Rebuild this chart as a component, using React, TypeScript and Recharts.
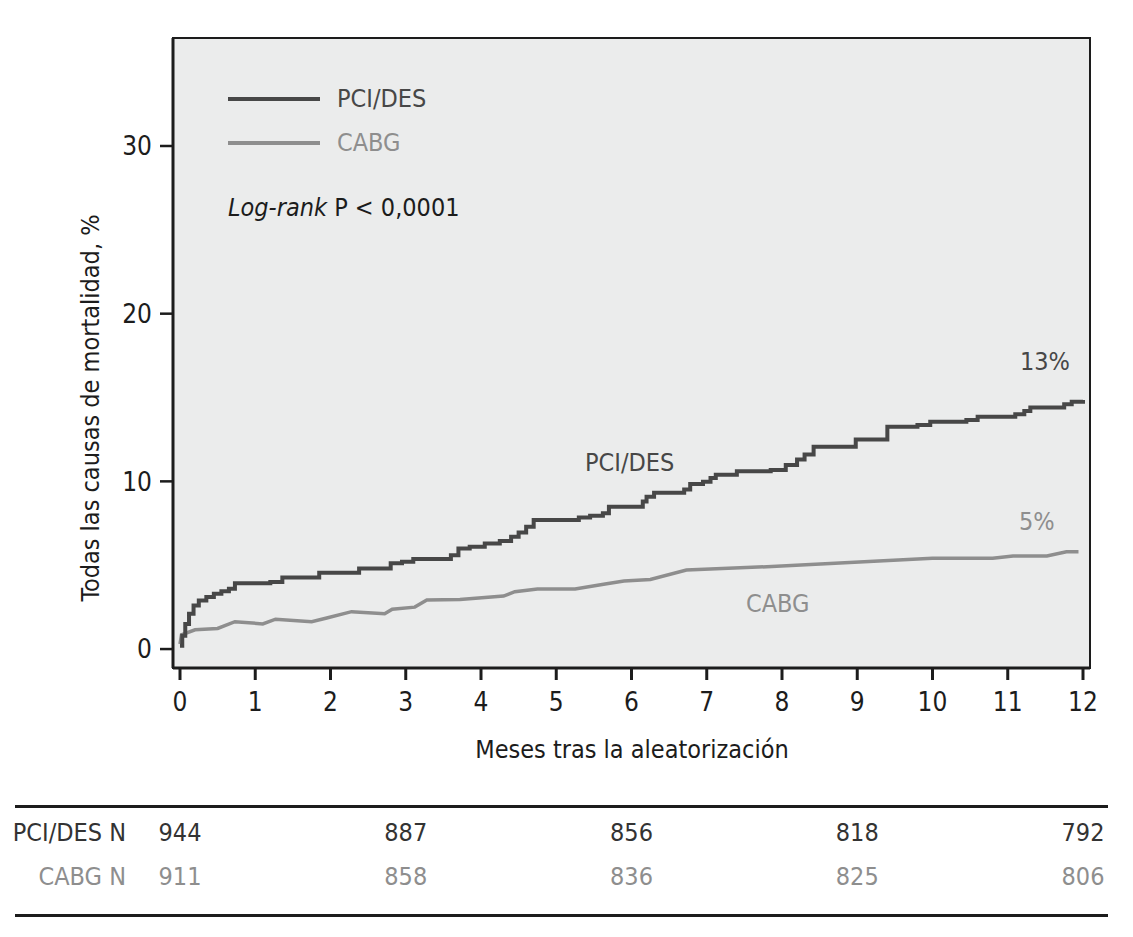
import React from "react";
import { LineChart, Line, XAxis, YAxis, ReferenceArea } from "recharts";

// Kaplan-Meier curves: [month, % mortality]
const pciMonths = [0, 0.03, 0.07, 0.12, 0.18, 0.25, 0.35, 0.45, 0.55, 0.65, 0.73, 1.2, 1.36, 1.85, 2.38, 2.8, 2.95, 3.1, 3.6, 3.7, 3.85, 4.05, 4.25, 4.4, 4.5, 4.6, 4.7, 5.3, 5.45, 5.62, 5.7, 6.15, 6.2, 6.3, 6.7, 6.78, 6.95, 7.05, 7.12, 7.4, 7.85, 8.05, 8.2, 8.3, 8.42, 8.98, 9.4, 9.8, 9.97, 10.45, 10.6, 11.1, 11.22, 11.3, 11.75, 11.85, 12.0];
const pciValues = [0.2, 0.8, 1.5, 2.1, 2.6, 2.9, 3.1, 3.3, 3.45, 3.6, 3.92, 4.0, 4.27, 4.55, 4.81, 5.11, 5.2, 5.37, 5.6, 6.0, 6.1, 6.3, 6.45, 6.7, 6.95, 7.3, 7.69, 7.85, 7.95, 8.1, 8.49, 8.8, 9.08, 9.32, 9.52, 9.84, 9.98, 10.2, 10.4, 10.6, 10.68, 10.97, 11.3, 11.6, 12.07, 12.5, 13.26, 13.36, 13.56, 13.66, 13.86, 14.0, 14.2, 14.4, 14.6, 14.75, 14.85];

const cabgMonths = [0, 0.02, 0.2, 0.5, 0.73, 1.1, 1.27, 1.75, 1.95, 2.28, 2.72, 2.82, 3.12, 3.28, 3.72, 4.3, 4.45, 4.75, 5.25, 5.65, 5.9, 6.25, 6.73, 7.8, 9.35, 10.0, 10.8, 11.07, 11.52, 11.78, 11.94];
const cabgValues = [0.3, 0.85, 1.15, 1.23, 1.63, 1.5, 1.78, 1.63, 1.85, 2.23, 2.1, 2.38, 2.5, 2.92, 2.96, 3.16, 3.42, 3.58, 3.58, 3.88, 4.06, 4.15, 4.71, 4.91, 5.27, 5.41, 5.41, 5.55, 5.55, 5.8, 5.8];

const xTicks = [0, 1, 2, 3, 4, 5, 6, 7, 8, 9, 10, 11, 12];
const yTicks = [0, 10, 20, 30];
const xDomain = [-0.093, 12.093];
const yDomain = [-1.13, 36.44];

// numbers at risk
const riskMonths = [0, 3, 6, 9, 12];
const pciAtRisk = [944, 887, 856, 818, 792];
const cabgAtRisk = [911, 858, 836, 825, 806];

const pciData = pciMonths.map((m, i) => ({ m, v: pciValues[i] }));
const cabgData = cabgMonths.map((m, i) => ({ m, v: cabgValues[i] }));

const DARK = "#474747";
const GRAY = "#8e8e8e";
const INK = "#1c1c1c";
const FONT = "'Liberation Sans Narrow', 'DejaVu Sans Condensed', sans-serif";

const W = 1133;
const H = 937;
const PLOT = { left: 173, top: 38, right: 1090, bottom: 668 };
const X_AXIS_H = 60;
const Y_AXIS_W = PLOT.left;
const M = { top: PLOT.top, left: 0, right: W - PLOT.right, bottom: H - PLOT.bottom - X_AXIS_H };

// month -> pixel, for placing the at-risk numbers under the axis
const monthX = (m: number) =>
  PLOT.left + ((m - xDomain[0]) / (xDomain[1] - xDomain[0])) * (PLOT.right - PLOT.left);

const txt = (extra: React.CSSProperties): React.CSSProperties => ({
  position: "absolute",
  fontFamily: FONT,
  fontSize: 25,
  lineHeight: "28px",
  whiteSpace: "nowrap",
  ...extra,
});

export default function App() {
  return (
    <div style={{ position: "relative", width: W, height: H, margin: -8, background: "#fff" }}>
      <LineChart width={W} height={H} margin={M}>
        <ReferenceArea
          x1={xDomain[0]}
          x2={xDomain[1]}
          y1={yDomain[0]}
          y2={yDomain[1]}
          fill="#ebecec"
          fillOpacity={1}
          stroke={INK}
          strokeWidth={2}
        />
        <XAxis
          type="number"
          dataKey="m"
          domain={xDomain}
          ticks={xTicks}
          allowDataOverflow
          height={X_AXIS_H}
          axisLine={{ stroke: INK, strokeWidth: 3 }}
          tickLine={{ stroke: INK, strokeWidth: 3 }}
          tickSize={12}
          tickMargin={13}
          tick={{ fill: INK, fontSize: 26, fontFamily: FONT }}
        />
        <YAxis
          type="number"
          dataKey="v"
          domain={yDomain}
          ticks={yTicks}
          allowDataOverflow
          width={Y_AXIS_W}
          axisLine={{ stroke: INK, strokeWidth: 3 }}
          tickLine={{ stroke: INK, strokeWidth: 2.5 }}
          tickSize={13}
          tickMargin={8}
          tick={{ fill: INK, fontSize: 26, fontFamily: FONT }}
        />
        <Line
          data={cabgData}
          dataKey="v"
          type="linear"
          stroke={GRAY}
          strokeWidth={3.5}
          dot={false}
          isAnimationActive={false}
        />
        <Line
          data={pciData}
          dataKey="v"
          type="stepAfter"
          stroke={DARK}
          strokeWidth={4}
          dot={false}
          isAnimationActive={false}
        />
      </LineChart>

      {/* legend */}
      <div style={{ position: "absolute", left: 228, top: 97, width: 92, height: 4, background: DARK }} />
      <div style={{ position: "absolute", left: 228, top: 141, width: 92, height: 4, background: GRAY }} />
      <div style={txt({ left: 337, top: 85, color: DARK })}>PCI/DES</div>
      <div style={txt({ left: 337, top: 129, color: GRAY })}>CABG</div>
      <div style={txt({ left: 228, top: 194, color: INK })}>
        <i>Log-rank</i> P &lt; 0,0001
      </div>

      {/* curve annotations */}
      <div style={txt({ left: 1020, top: 348, color: DARK })}>13%</div>
      <div style={txt({ left: 585, top: 449, color: DARK })}>PCI/DES</div>
      <div style={txt({ left: 1019, top: 508, color: GRAY })}>5%</div>
      <div style={txt({ left: 746, top: 590, color: GRAY })}>CABG</div>

      {/* axis titles */}
      <div style={txt({ left: 0, width: 1264, top: 736, textAlign: "center", color: INK })}>
        Meses tras la aleatorización
      </div>
      <div
        style={txt({
          left: 91,
          top: 408,
          color: INK,
          transform: "translate(-50%, -50%) rotate(-90deg)",
        })}
      >
        Todas las causas de mortalidad, %
      </div>

      {/* numbers at risk */}
      <div style={{ position: "absolute", left: 15, top: 805, width: 1093, height: 2.5, background: INK }} />
      <div style={{ position: "absolute", left: 15, top: 914, width: 1093, height: 2.5, background: INK }} />
      <div style={txt({ left: 0, width: 126, top: 819, textAlign: "right", color: "#333" })}>PCI/DES N</div>
      <div style={txt({ left: 0, width: 126, top: 863, textAlign: "right", color: GRAY })}>CABG N</div>
      {riskMonths.map((m, i) => (
        <React.Fragment key={m}>
          <div style={txt({ left: monthX(m) - 40, width: 80, top: 819, textAlign: "center", color: "#333" })}>
            {pciAtRisk[i]}
          </div>
          <div style={txt({ left: monthX(m) - 40, width: 80, top: 863, textAlign: "center", color: GRAY })}>
            {cabgAtRisk[i]}
          </div>
        </React.Fragment>
      ))}
    </div>
  );
}
